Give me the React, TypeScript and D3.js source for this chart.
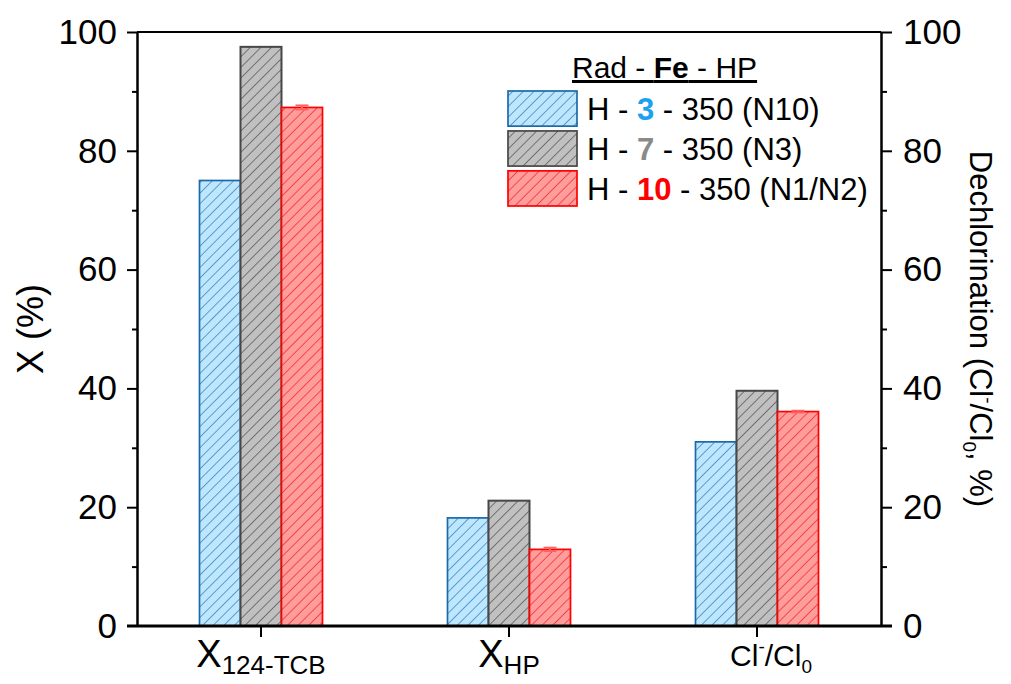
import React, { useEffect, useRef } from 'react';
import * as d3 from 'd3';

const categories = ['X124', 'XHP', 'ClCl0'];
const seriesKeys = ['pH3', 'pH7', 'pH10'];
const valuesPH3 = [75.0, 18.2, 31.0];
const valuesPH7 = [97.5, 21.1, 39.6];
const valuesPH10 = [87.3, 12.9, 36.1];
const errorsPH10 = [0.35, 0.3, 0.15];
const yTicks = [0, 20, 40, 60, 80, 100];
const yMinorTicks = [10, 30, 50, 70, 90];
const legendNumbers = ['3', '7', '10'];
const legendSuffixes = [' - 350 (N10)', ' - 350 (N3)', ' - 350 (N1/N2)'];

const FONT = "'Liberation Sans', Arial, sans-serif";

const styles = [
  { fill: '#bfe6ff', stroke: '#1a6aa8', hatch: '#1f78b4', num: '#1ea0f0' },
  { fill: '#c0c0c0', stroke: '#474747', hatch: '#474747', num: '#8a8a8a' },
  { fill: '#ff9c9c', stroke: '#ff0000', hatch: '#f01a1a', num: '#ff0000' },
];

const App = () => {
  const chartRef = useRef<SVGSVGElement>(null);

  useEffect(() => {
    const W = 1011;
    const H = 684;
    const margin = { top: 32, right: 130, bottom: 58, left: 137 };
    const x0 = margin.left;
    const x1 = W - margin.right;
    const yBottom = H - margin.bottom;

    const svg = d3.select(chartRef.current);
    svg.selectAll('*').remove();

    const series = [valuesPH3, valuesPH7, valuesPH10];

    const xScale = d3.scaleBand().domain(categories).range([x0, x1]).padding(0);
    const xInner = d3.scaleBand().domain(seriesKeys).range([-61.5, 61.5]).padding(0);
    const yScale = d3.scaleLinear().domain([0, 100]).range([yBottom, margin.top]);

    // hatch patterns
    const defs = svg.append('defs');
    styles.forEach((s, i) => {
      const p = defs
        .append('pattern')
        .attr('id', `hatch${i}`)
        .attr('patternUnits', 'userSpaceOnUse')
        .attr('width', 7.5)
        .attr('height', 7.5)
        .attr('patternTransform', 'rotate(45)');
      p.append('rect').attr('width', 7.5).attr('height', 7.5).attr('fill', s.fill);
      p.append('line')
        .attr('x1', 0).attr('y1', 0).attr('x2', 0).attr('y2', 7.5)
        .attr('stroke', s.hatch).attr('stroke-width', 1.3);
    });

    // bars
    series.forEach((vals, si) => {
      svg
        .append('g')
        .selectAll('rect')
        .data(vals)
        .enter()
        .append('rect')
        .attr('x', (d, i) => xScale(categories[i])! + xScale.bandwidth() / 2 + xInner(seriesKeys[si])!)
        .attr('y', (d) => yScale(d))
        .attr('width', xInner.bandwidth())
        .attr('height', (d) => yBottom - yScale(d))
        .attr('fill', `url(#hatch${si})`)
        .attr('stroke', styles[si].stroke)
        .attr('stroke-width', si === 1 ? 2 : 1.7);
    });

    // error bars on pH 10
    const errG = svg.append('g').attr('stroke', '#ff6060').attr('stroke-width', 1.8);
    valuesPH10.forEach((v, i) => {
      const cx = xScale(categories[i])! + xScale.bandwidth() / 2 + xInner('pH10')! + xInner.bandwidth() / 2;
      const yt = yScale(v + errorsPH10[i]);
      const yb = yScale(v - errorsPH10[i]);
      errG.append('line').attr('x1', cx).attr('x2', cx).attr('y1', yt).attr('y2', yb);
      errG.append('line').attr('x1', cx - 6.5).attr('x2', cx + 6.5).attr('y1', yt).attr('y2', yt);
      errG.append('line').attr('x1', cx - 6.5).attr('x2', cx + 6.5).attr('y1', yb).attr('y2', yb);
    });

    // top frame
    svg.append('line').attr('x1', x0).attr('x2', x1).attr('y1', margin.top).attr('y2', margin.top)
      .attr('stroke', '#000').attr('stroke-width', 2);

    // left axis
    const left = svg.append('g').attr('transform', `translate(${x0},0)`);
    left.call(d3.axisLeft(yScale).tickValues(yTicks).tickSize(10).tickSizeOuter(0).tickFormat(d3.format('d')));
    left.selectAll('.tick').filter((d: any) => d === 0).select('line').remove();
    left.append('g').call(d3.axisLeft(yScale).tickValues(yMinorTicks).tickSize(5).tickSizeOuter(0).tickFormat(() => ''));
    left.selectAll('path.domain').attr('stroke-width', 2);
    left.selectAll('line').attr('stroke-width', 2);
    left.selectAll('text').attr('font-family', FONT).attr('font-size', 35).attr('fill', '#000').attr('x', -20);

    // right axis
    const right = svg.append('g').attr('transform', `translate(${x1},0)`);
    right.call(d3.axisRight(yScale).tickValues(yTicks).tickSize(11).tickSizeOuter(0).tickFormat(d3.format('d')));
    right.selectAll('.tick').filter((d: any) => d === 0).select('line').remove();
    right.append('g').call(d3.axisRight(yScale).tickValues(yMinorTicks).tickSize(6).tickSizeOuter(0).tickFormat(() => ''));
    right.selectAll('path.domain').attr('stroke-width', 2);
    right.selectAll('line').attr('stroke-width', 2);
    right.selectAll('text').attr('font-family', FONT).attr('font-size', 35).attr('fill', '#000').attr('x', 22);

    // bottom axis line, extended outward as the zero ticks
    svg.append('line').attr('x1', x0 - 10).attr('x2', x1 + 11).attr('y1', yBottom).attr('y2', yBottom)
      .attr('stroke', '#000').attr('stroke-width', 3);

    // bottom axis ticks
    const bottom = svg.append('g').attr('transform', `translate(0,${yBottom})`);
    bottom.call(d3.axisBottom(xScale).tickSize(11).tickSizeOuter(0).tickFormat(() => ''));
    bottom.select('path.domain').remove();
    bottom.selectAll('line').attr('stroke-width', 2);

    // category labels
    const cx = (c: string) => xScale(c)! + xScale.bandwidth() / 2;
    const lab1 = svg.append('text').attr('x', cx('X124')).attr('y', 667).attr('text-anchor', 'middle')
      .attr('font-family', FONT).attr('font-size', 38);
    lab1.append('tspan').text('X');
    lab1.append('tspan').attr('font-size', 26).attr('dy', 7).text('124-TCB');

    const lab2 = svg.append('text').attr('x', cx('XHP')).attr('y', 667).attr('text-anchor', 'middle')
      .attr('font-family', FONT).attr('font-size', 38);
    lab2.append('tspan').text('X');
    lab2.append('tspan').attr('font-size', 26).attr('dy', 7).text('HP');

    const lab3 = svg.append('text').attr('x', cx('ClCl0') + 14).attr('y', 666).attr('text-anchor', 'middle')
      .attr('font-family', FONT).attr('font-size', 30);
    lab3.append('tspan').text('Cl');
    lab3.append('tspan').attr('font-size', 19).attr('dy', -13).text('-');
    lab3.append('tspan').attr('dy', 13).text('/Cl');
    lab3.append('tspan').attr('font-size', 19).attr('dy', 7).text('0');

    // axis titles
    svg.append('text')
      .attr('transform', `translate(43,${(margin.top + yBottom) / 2}) rotate(-90)`)
      .attr('text-anchor', 'middle').attr('font-family', FONT).attr('font-size', 36)
      .text('X (%)');

    const rt = svg.append('text')
      .attr('transform', `translate(970,${(margin.top + yBottom) / 2}) rotate(90)`)
      .attr('text-anchor', 'middle').attr('font-family', FONT).attr('font-size', 31);
    rt.append('tspan').text('Dechlorination (Cl');
    rt.append('tspan').attr('font-size', 19).attr('dy', -12).text('-');
    rt.append('tspan').attr('dy', 12).text('/Cl');
    rt.append('tspan').attr('font-size', 19).attr('dy', 7).text('0');
    rt.append('tspan').attr('dy', -7).text(', %)');

    // legend
    const lg = svg.append('g').attr('transform', 'translate(508,0)');
    const title = lg.append('text').attr('x', 64).attr('y', 78).attr('font-family', FONT).attr('font-size', 30)
      .style('text-decoration', 'underline');
    title.append('tspan').text('Rad - ');
    title.append('tspan').attr('font-weight', 'bold').text('Fe');
    title.append('tspan').text(' - HP');

    const rowY = d3.scaleBand().domain(seriesKeys).range([91, 206]).paddingInner(0.12);
    seriesKeys.forEach((k, i) => {
      const y = rowY(k)!;
      lg.append('rect').attr('x', 0).attr('y', y).attr('width', 69).attr('height', rowY.bandwidth())
        .attr('fill', `url(#hatch${i})`).attr('stroke', styles[i].stroke).attr('stroke-width', 1.7);
      const t = lg.append('text').attr('x', 79).attr('y', y + rowY.bandwidth() / 2).attr('dy', '0.36em')
        .attr('font-family', FONT).attr('font-size', 31);
      t.append('tspan').text('H - ');
      t.append('tspan').attr('font-weight', 'bold').attr('fill', styles[i].num).text(legendNumbers[i]);
      t.append('tspan').text(legendSuffixes[i]);
    });
  }, []);

  return (
    <svg
      ref={chartRef}
      width={1011}
      height={684}
      style={{ position: 'absolute', left: 0, top: 0, background: '#fff' }}
    ></svg>
  );
};

export default App;
